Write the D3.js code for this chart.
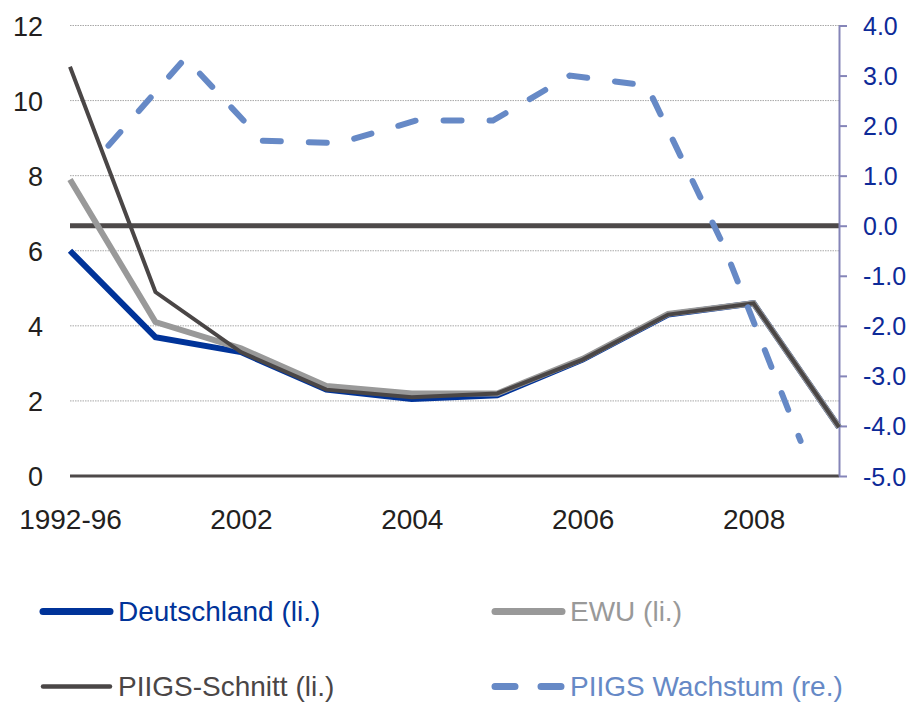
<!DOCTYPE html>
<html>
<head>
<meta charset="utf-8">
<script src="https://cdn.jsdelivr.net/npm/d3@7"></script>
<style>
  body { margin: 0; background: #fff; }
  #chart { width: 914px; height: 702px; }
  text { font-family: "Liberation Sans", Arial, sans-serif; }
</style>
</head>
<body>
<div id="chart"></div>
<script>
// categories on the x axis (only every second one gets a label)
var categories = ['1992-96', '2001', '2002', '2003', '2004', '2005', '2006', '2007', '2008', '2009'];

// left axis series
var deutschland = [6.0, 3.7, 3.3, 2.3, 2.05, 2.15, 3.1, 4.3, 4.6, 1.3];
var ewu         = [7.9, 4.1, 3.4, 2.4, 2.2, 2.2, 3.12, 4.32, 4.6, 1.3];
var piigs       = [10.9, 4.9, 3.3, 2.3, 2.1, 2.2, 3.1, 4.3, 4.6, 1.3];

// right axis series
var piigsGrowth = [1.6, 3.35, 1.7, 1.65, 2.1, 2.1, 3.0, 2.8, -0.4, -4.3];

var leftTicks = [0, 2, 4, 6, 8, 10, 12];
var rightTicks = [4, 3, 2, 1, 0, -1, -2, -3, -4, -5];
var legendLabels = ['Deutschland (li.)', 'EWU (li.)', 'PIIGS-Schnitt (li.)', 'PIIGS Wachstum (re.)'];

var width = 914, height = 702;
var margin = { top: 25.5, right: 75, bottom: 226, left: 70 };
var w = width - margin.left - margin.right;
var h = height - margin.top - margin.bottom;

var svg = d3.select('#chart').append('svg')
  .attr('width', width)
  .attr('height', height);

var g = svg.append('g').attr('transform', `translate(${margin.left}, ${margin.top})`);

// scales
var x = d3.scalePoint().domain(categories).range([0, w]);
var xBand = d3.scaleBand().domain(categories).range([0, w]); // growth series sits in the band centres
var yLeft = d3.scaleLinear().domain([0, 12]).range([h, 0]);
var yRight = d3.scaleLinear().domain([-5, 4]).range([h, 0]);

// dotted gridlines
g.selectAll('.grid')
  .data(leftTicks.filter(d => d > 0))
  .enter().append('line')
  .attr('x1', 0).attr('x2', w)
  .attr('y1', d => yLeft(d)).attr('y2', d => yLeft(d))
  .attr('stroke', '#a8a8a8')
  .attr('stroke-width', 1)
  .attr('stroke-dasharray', '1.5 1');

// zero line of the right axis
g.append('line')
  .attr('x1', 0).attr('x2', w)
  .attr('y1', yRight(0)).attr('y2', yRight(0))
  .attr('stroke', '#4d4949')
  .attr('stroke-width', 5);

// x baseline
g.append('line')
  .attr('x1', 0).attr('x2', w)
  .attr('y1', yLeft(0)).attr('y2', yLeft(0))
  .attr('stroke', '#4d4949')
  .attr('stroke-width', 3);

// left axis
var gy = g.append('g')
  .call(d3.axisLeft(yLeft).tickValues(leftTicks).tickSize(0).tickPadding(27));
gy.select('.domain').remove();
gy.selectAll('text').style('font-size', '27px').attr('fill', '#231f20').attr('dy', '0.36em');

// right axis
var gr = g.append('g')
  .attr('transform', `translate(${w}, 0)`)
  .call(d3.axisRight(yRight).tickValues(rightTicks).tickSize(8).tickSizeOuter(0).tickPadding(16)
    .tickFormat(d => d.toFixed(1)));
gr.select('.domain').attr('stroke', '#8585b8').attr('stroke-width', 2);
gr.selectAll('.tick line').attr('stroke', '#8585b8').attr('stroke-width', 2);
gr.selectAll('text').style('font-size', '25px').attr('fill', '#0d2a98').attr('dy', '0.36em');

// x axis labels
var gx = g.append('g')
  .attr('transform', `translate(0, ${h})`)
  .call(d3.axisBottom(x).tickValues(categories.filter((d, i) => i % 2 === 0)).tickSize(0).tickPadding(33));
gx.select('.domain').remove();
gx.selectAll('text').style('font-size', '28px').attr('fill', '#231f20');

// line series
var lineLeft = d3.line().x((d, i) => x(categories[i])).y(d => yLeft(d));
var lineRight = d3.line().x((d, i) => xBand(categories[i]) + xBand.bandwidth() / 2).y(d => yRight(d));

g.append('path').datum(deutschland)
  .attr('d', lineLeft)
  .attr('fill', 'none')
  .attr('stroke', '#003399')
  .attr('stroke-width', 6);

g.append('path').datum(ewu)
  .attr('d', lineLeft)
  .attr('fill', 'none')
  .attr('stroke', '#999999')
  .attr('stroke-width', 6);

g.append('path').datum(piigs)
  .attr('d', lineLeft)
  .attr('fill', 'none')
  .attr('stroke', '#4a4646')
  .attr('stroke-width', 4);

g.append('path').datum(piigsGrowth)
  .attr('d', lineRight)
  .attr('fill', 'none')
  .attr('stroke', '#6689c6')
  .attr('stroke-width', 6)
  .attr('stroke-linecap', 'round')
  .attr('stroke-dasharray', '18 28');

// legend
var legendColors = ['#003399', '#999999', '#4a4646', '#6689c6'];
var legendWidths = [7, 7, 4.5, 7];
var legendX = [40, 492, 40, 492];
var legendY = [611.5, 611.5, 686.5, 686.5];

var legend = svg.append('g');
legendLabels.forEach(function (label, i) {
  var item = legend.append('g').attr('transform', `translate(${legendX[i]}, ${legendY[i]})`);
  item.append('line')
    .attr('x1', 3).attr('x2', 70)
    .attr('y1', 0).attr('y2', 0)
    .attr('stroke', legendColors[i])
    .attr('stroke-width', legendWidths[i])
    .attr('stroke-linecap', 'round')
    .attr('stroke-dasharray', i === 3 ? '20 26' : null);
  item.append('text')
    .attr('x', 78)
    .attr('y', 9.5)
    .style('font-size', '28px')
    .attr('fill', legendColors[i])
    .text(label);
});
</script>
</body>
</html>
